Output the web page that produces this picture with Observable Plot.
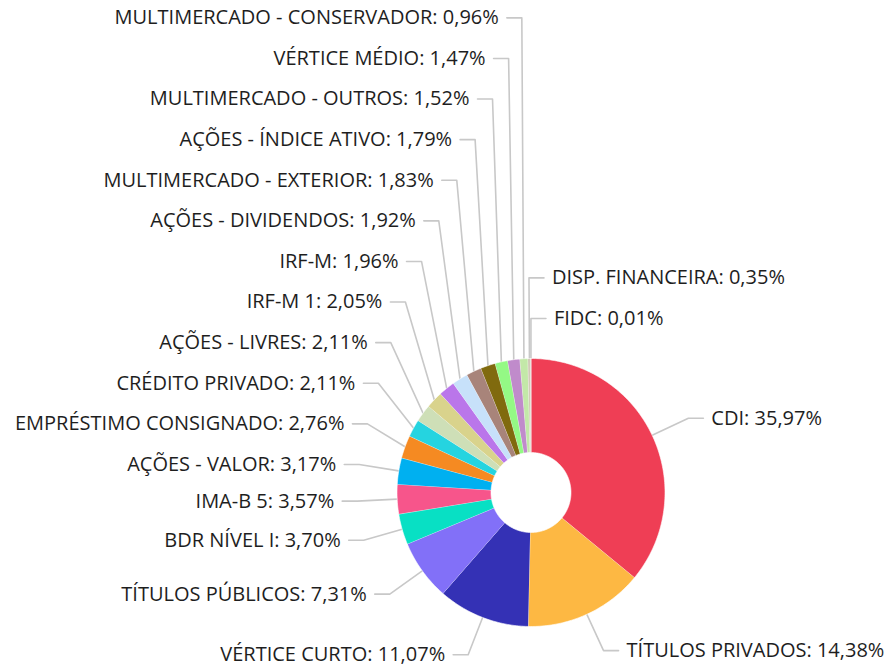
<!DOCTYPE html>
<html><head><meta charset="utf-8">
<script src="https://cdn.jsdelivr.net/npm/d3@7"></script>
<script src="https://cdn.jsdelivr.net/npm/@observablehq/plot@0.6"></script>
<style>body{margin:0;background:#fff;}</style>
</head><body><div id="chart"></div>
<script>
const categories = ["CDI","TÍTULOS PRIVADOS","VÉRTICE CURTO","TÍTULOS PÚBLICOS","BDR NÍVEL I","IMA-B 5","AÇÕES - VALOR","EMPRÉSTIMO CONSIGNADO","CRÉDITO PRIVADO","AÇÕES - LIVRES","IRF-M 1","IRF-M","AÇÕES - DIVIDENDOS","MULTIMERCADO - EXTERIOR","AÇÕES - ÍNDICE ATIVO","MULTIMERCADO - OUTROS","VÉRTICE MÉDIO","MULTIMERCADO - CONSERVADOR","DISP. FINANCEIRA","FIDC"];
const values = [35.97,14.38,11.07,7.31,3.70,3.57,3.17,2.76,2.11,2.11,2.05,1.96,1.92,1.83,1.79,1.52,1.47,0.96,0.35,0.01];
const colors = ["#ef3e55","#fdb843","#3431b5","#8270f8","#08e0c4","#f7558b","#00b0f0","#f58a22","#25d4e0","#cedfb7","#d9d38c","#ba76ea","#c7e1fa","#a8847a","#806a0e","#94f985","#c08bcb","#c3e8a8","#d2c9b8","#b0b0b0"];

const W = 888, H = 666, CX = 530.5, CY = 492;
const R = 134, R0 = 40, LEN1 = 40, LEN2 = 15, TEXTPAD = 8;
const GAP_MIN = 36, GAP = 40.6;

const total = d3.sum(values);
let acc = 0;
const slices = categories.map((name, i) => {
  const a0 = acc / total * 2 * Math.PI; acc += values[i];
  const a1 = acc / total * 2 * Math.PI;
  return {name, value: values[i], a0, a1, mid: (a0 + a1) / 2};
});

const polyPts = [];
for (const s of slices) {
  const n = Math.max(2, Math.ceil((s.a1 - s.a0) / (Math.PI / 180)));
  for (let k = 0; k <= n; k++) { const a = s.a0 + (s.a1 - s.a0) * k / n; polyPts.push({name: s.name, x: R * Math.sin(a), y: R * Math.cos(a)}); }
  for (let k = n; k >= 0; k--) { const a = s.a0 + (s.a1 - s.a0) * k / n; polyPts.push({name: s.name, x: R0 * Math.sin(a), y: R0 * Math.cos(a)}); }
}

const labels = slices.map(s => {
  const sa = Math.sin(s.mid), ca = Math.cos(s.mid);
  const deg = s.mid * 180 / Math.PI, signed = deg > 180 ? deg - 360 : deg;
  const side = signed > -1 ? 1 : -1;
  const order = side > 0 ? 180 - signed : deg - 180;
  return {...s, side, order, ax: R * sa, ay: R * ca, bx: (R + LEN1) * sa, natural: (R + LEN1) * ca};
});
for (const side of [1, -1]) {
  const list = labels.filter(l => l.side === side).sort((a, b) => a.order - b.order);
  let prev = -Infinity;
  for (const l of list) {
    l.ly = l.natural >= prev + GAP_MIN ? l.natural : prev + GAP;
    prev = l.ly;
  }
}
const leaderPts = [];
for (const l of labels) {
  leaderPts.push({name: l.name, x: l.ax, y: l.ay});
  leaderPts.push({name: l.name, x: l.bx, y: l.ly});
  leaderPts.push({name: l.name, x: l.bx + l.side * LEN2, y: l.ly});
  l.tx = l.bx + l.side * (LEN2 + TEXTPAD);
}
const fmt = v => v.toFixed(2).replace(".", ",");
const labelText = d => `${d.name}: ${fmt(d.value)}%`;

const chart = Plot.plot({
  width: W, height: H, margin: 0,
  x: {domain: [-CX, W - CX], axis: null},
  y: {domain: [-(H - CY), CY], axis: null},
  color: {domain: categories, range: colors},
  style: {fontFamily: "'Open Sans', sans-serif", background: "#fff"},
  marks: [
    Plot.line(leaderPts, {x: "x", y: "y", z: "name", stroke: "#c8c8c8", strokeWidth: 1.6, curve: "linear"}),
    Plot.line(polyPts, {x: "x", y: "y", z: "name", fill: "name", stroke: "#fff", strokeWidth: 0.6, strokeLinejoin: "miter", curve: "linear"}),
    Plot.text(labels.filter(l => l.side < 0), {x: "tx", y: "ly", text: labelText, textAnchor: "end", fontSize: 20, fill: "#1e1e1e"}),
    Plot.text(labels.filter(l => l.side > 0), {x: "tx", y: "ly", text: labelText, textAnchor: "start", fontSize: 20, fill: "#1e1e1e"})
  ]
});
document.getElementById("chart").appendChild(chart);
</script>
</body></html>
